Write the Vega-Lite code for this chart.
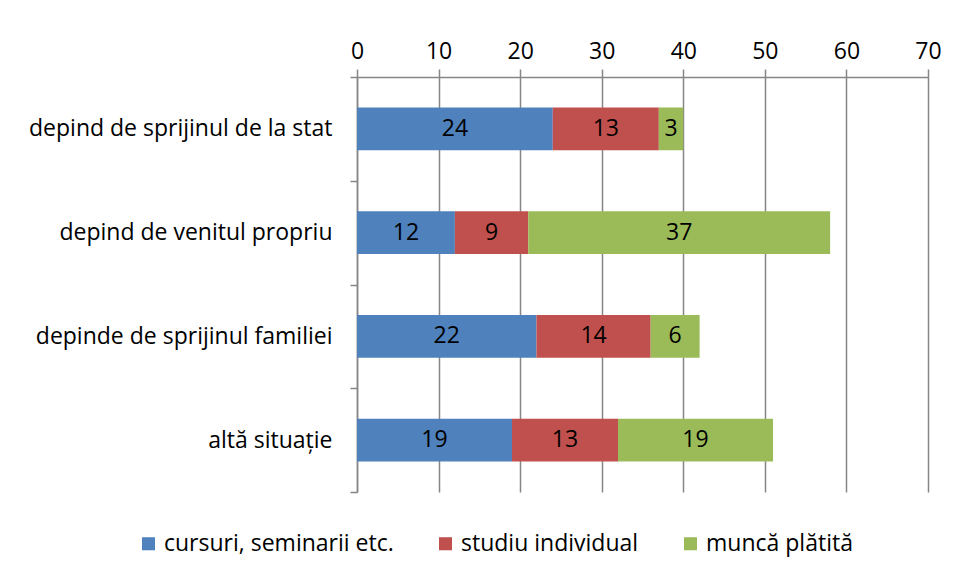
{
  "$schema": "https://vega.github.io/schema/vega-lite/v6.json",
  "width": 571,
  "height": 415,
  "autosize": "none",
  "padding": {"left": 357, "top": 77, "right": 30, "bottom": 87},
  "background": "white",
  "config": {
    "view": {"stroke": null},
    "font": "Open Sans",
    "axis": {"labelFont": "Open Sans", "labelColor": "#000000"},
    "legend": {"labelFont": "Open Sans"}
  },
  "data": {
    "values": [
      {"cat": "depind de sprijinul de la stat", "ser": "cursuri, seminarii etc.", "ord": 1, "v": 24},
      {"cat": "depind de sprijinul de la stat", "ser": "studiu individual", "ord": 2, "v": 13},
      {"cat": "depind de sprijinul de la stat", "ser": "muncă plătită", "ord": 3, "v": 3},
      {"cat": "depind de venitul propriu", "ser": "cursuri, seminarii etc.", "ord": 1, "v": 12},
      {"cat": "depind de venitul propriu", "ser": "studiu individual", "ord": 2, "v": 9},
      {"cat": "depind de venitul propriu", "ser": "muncă plătită", "ord": 3, "v": 37},
      {"cat": "depinde de sprijinul familiei", "ser": "cursuri, seminarii etc.", "ord": 1, "v": 22},
      {"cat": "depinde de sprijinul familiei", "ser": "studiu individual", "ord": 2, "v": 14},
      {"cat": "depinde de sprijinul familiei", "ser": "muncă plătită", "ord": 3, "v": 6},
      {"cat": "altă situație", "ser": "cursuri, seminarii etc.", "ord": 1, "v": 19},
      {"cat": "altă situație", "ser": "studiu individual", "ord": 2, "v": 13},
      {"cat": "altă situație", "ser": "muncă plătită", "ord": 3, "v": 19}
    ]
  },
  "transform": [
    {"stack": "v", "groupby": ["cat"], "sort": [{"field": "ord"}], "as": ["v0", "v1"]},
    {"calculate": "(datum.v0 + datum.v1) / 2", "as": "mid"}
  ],
  "encoding": {
    "y": {
      "field": "cat",
      "type": "nominal",
      "sort": ["depind de sprijinul de la stat", "depind de venitul propriu", "depinde de sprijinul familiei", "altă situație"],
      "scale": {"paddingInner": 0, "paddingOuter": 0},
      "axis": {
        "title": null,
        "tickBand": "extent",
        "domainColor": "#868686",
        "domainWidth": 1.5,
        "tickColor": "#868686",
        "tickWidth": 1.5,
        "tickSize": 7,
        "labelPadding": 18,
        "labelFontSize": 23,
        "labelLimit": 400
      }
    }
  },
  "layer": [
    {
      "mark": {"type": "bar", "height": {"band": 0.414}},
      "encoding": {
        "x": {
          "field": "v0",
          "type": "quantitative",
          "scale": {"domain": [0, 70], "nice": false},
          "axis": {
            "orient": "top",
            "title": null,
            "values": [0, 10, 20, 30, 40, 50, 60, 70],
            "grid": true,
            "gridColor": "#868686",
            "gridWidth": 1.5,
            "domainColor": "#868686",
            "domainWidth": 1.5,
            "tickColor": "#868686",
            "tickWidth": 1.5,
            "tickSize": 8,
            "labelPadding": 6,
            "labelFontSize": 23,
            "labelFlush": false
          }
        },
        "x2": {"field": "v1"},
        "color": {
          "field": "ser",
          "type": "nominal",
          "scale": {
            "domain": ["cursuri, seminarii etc.", "studiu individual", "muncă plătită"],
            "range": ["#4F81BD", "#C0504D", "#9BBB59"]
          },
          "legend": {
            "title": null,
            "orient": "none",
            "direction": "horizontal",
            "legendX": -220,
            "legendY": 455,
            "symbolType": "square",
            "symbolSize": 170,
            "symbolStrokeWidth": 0,
            "labelFontSize": 23,
            "labelOffset": 4,
            "columnPadding": 40,
            "labelLimit": 400
          }
        }
      }
    },
    {
      "mark": {"type": "text", "fontSize": 23, "color": "#000000", "align": "center", "baseline": "middle"},
      "encoding": {
        "x": {"field": "mid", "type": "quantitative"},
        "text": {"field": "v", "type": "quantitative"}
      }
    }
  ]
}
